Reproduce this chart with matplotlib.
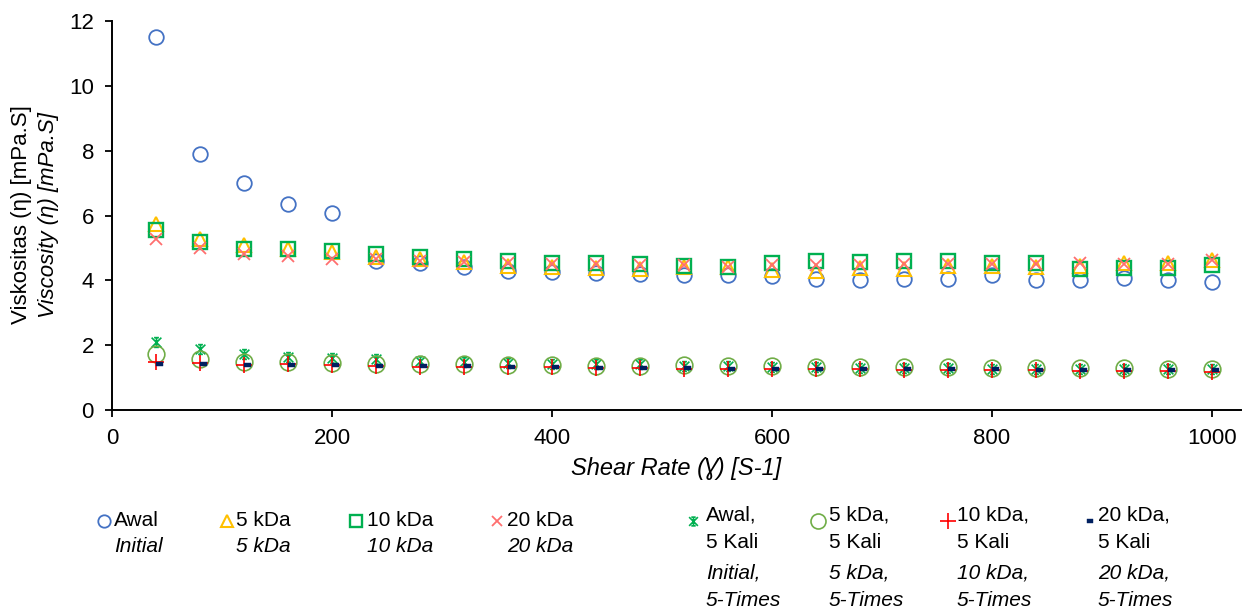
import matplotlib
matplotlib.use("Agg")
import matplotlib.pyplot as plt
from matplotlib.lines import Line2D
from matplotlib.path import Path

plt.rcParams["font.family"] = ["Liberation Sans", "DejaVu Sans"]

# shear rate values
shear = [40, 80, 120, 160, 200, 240, 280, 320, 360, 400, 440, 480, 520,
         560, 600, 640, 680, 720, 760, 800, 840, 880, 920, 960, 1000]

awal = [11.5, 7.9, 7.0, 6.37, 6.07, 4.6, 4.52, 4.4, 4.3, 4.25, 4.23, 4.18, 4.15,
        4.15, 4.12, 4.04, 4.02, 4.05, 4.05, 4.16, 4.02, 4.02, 4.07, 4.0, 3.95]
kda5 = [5.74, 5.28, 5.08, 4.97, 4.88, 4.73, 4.65, 4.57, 4.45, 4.41, 4.38, 4.35, 4.4,
        4.4, 4.33, 4.28, 4.38, 4.35, 4.43, 4.43, 4.4, 4.45, 4.53, 4.53, 4.64]
kda10 = [5.56, 5.19, 4.97, 4.97, 4.9, 4.8, 4.72, 4.65, 4.6, 4.55, 4.53, 4.5, 4.45,
         4.4, 4.55, 4.6, 4.57, 4.6, 4.6, 4.55, 4.53, 4.36, 4.39, 4.39, 4.46]
kda20 = [5.26, 5.0, 4.82, 4.75, 4.66, 4.65, 4.6, 4.58, 4.53, 4.5, 4.5, 4.47, 4.47,
         4.42, 4.47, 4.47, 4.47, 4.5, 4.5, 4.5, 4.5, 4.53, 4.5, 4.5, 4.63]
awal_5x = [2.11, 1.88, 1.73, 1.65, 1.6, 1.57, 1.52, 1.49, 1.46, 1.43, 1.42, 1.41, 1.36,
           1.35, 1.34, 1.33, 1.31, 1.3, 1.3, 1.28, 1.28, 1.27, 1.27, 1.26, 1.25]
kda5_5x = [1.72, 1.57, 1.49, 1.49, 1.44, 1.43, 1.42, 1.41, 1.39, 1.39, 1.37, 1.37, 1.39,
           1.37, 1.37, 1.34, 1.33, 1.32, 1.32, 1.29, 1.29, 1.29, 1.29, 1.28, 1.28]
kda10_5x = [1.49, 1.44, 1.39, 1.41, 1.38, 1.36, 1.34, 1.34, 1.32, 1.32, 1.3, 1.3, 1.26,
            1.27, 1.27, 1.25, 1.25, 1.24, 1.23, 1.22, 1.22, 1.21, 1.2, 1.2, 1.18]
kda20_5x = [1.43, 1.42, 1.39, 1.4, 1.38, 1.36, 1.36, 1.35, 1.33, 1.32, 1.31, 1.3, 1.29,
            1.28, 1.28, 1.27, 1.26, 1.26, 1.25, 1.25, 1.24, 1.24, 1.23, 1.23, 1.22]

yticks = [0, 2, 4, 6, 8, 10, 12]
xticks = [0, 200, 400, 600, 800, 1000]

# excel-like star: X + vertical bar + caps
M, L = Path.MOVETO, Path.LINETO
star = Path([(-1, -1), (1, 1), (-1, 1), (1, -1), (0, -1), (0, 1),
             (-0.5, 1), (0.5, 1), (-0.5, -1), (0.5, -1)],
            [M, L, M, L, M, L, M, L, M, L])
# excel dash sits to the right of the point
dash = Path([(0, -0.27), (1, -0.27), (1, 0.27), (0, 0.27), (0, -0.27)],
            [M, L, L, L, Path.CLOSEPOLY])

series = [
    (["Awal"], ["Initial"], awal,
     dict(marker="o", ms=10.5, mfc="none", mec="#4472C4", mew=1.3)),
    (["5 kDa"], ["5 kDa"], kda5,
     dict(marker="^", ms=10.5, mfc="none", mec="#FFC000", mew=1.5)),
    (["10 kDa"], ["10 kDa"], kda10,
     dict(marker="s", ms=10, mfc="none", mec="#00B050", mew=1.7)),
    (["20 kDa"], ["20 kDa"], kda20,
     dict(marker="x", ms=9, mec="#FF6F6F", mew=1.3)),
    (["Awal,", "5 Kali"], ["Initial,", "5-Times"], awal_5x,
     dict(marker=star, ms=7, mfc="none", mec="#00B050", mew=1.2)),
    (["5 kDa,", "5 Kali"], ["5 kDa,", "5-Times"], kda5_5x,
     dict(marker="o", ms=12, mfc="none", mec="#70AD47", mew=1.2)),
    (["10 kDa,", "5 Kali"], ["10 kDa,", "5-Times"], kda10_5x,
     dict(marker="+", ms=11.5, mec="#FF0000", mew=1.2)),
    (["20 kDa,", "5 Kali"], ["20 kDa,", "5-Times"], kda20_5x,
     dict(marker=dash, ms=10.5, mfc="#002060", mec="#002060", mew=0.3)),
]

W, H = 1250, 614
FS = 15
fig = plt.figure(figsize=(W / 100, H / 100), dpi=100)
ax = fig.add_axes([112 / W, (H - 410) / H, (1241 - 112) / W, (410 - 21) / H])

for name, en, vals, st in series:
    ax.plot(shear, vals, ls="none", **st)

ax.set_xlim(0, 1026.4)
ax.set_ylim(0, 12)
ax.set_xticks(xticks)
ax.set_yticks(yticks)
ax.tick_params(labelsize=16, length=5, width=1.3, pad=8, colors="black")
for s in ("top", "right"):
    ax.spines[s].set_visible(False)
for s in ("left", "bottom"):
    ax.spines[s].set_linewidth(1.4)

ax.set_xlabel("Shear Rate (Ɣ) [S-1]", fontsize=17, style="italic", labelpad=6)
fig.text(22 / W, 1 - 215 / H, "Viskositas (η) [mPa.S]", rotation=90,
         fontsize=16, ha="center", va="center")
fig.text(49 / W, 1 - 215 / H, "Viscosity (η) [mPa.S]", rotation=90,
         fontsize=16, style="italic", ha="center", va="center")


def px(x, y):
    return x / W, 1 - y / H


# legend drawn by hand, one row under the axis
mark_x = [104, 227, 356, 497, 693, 818, 948, 1087]
text_x = [114, 236, 367, 507, 706, 829, 957, 1098]
leg_scale = [0.85, 0.85, 0.85, 0.85, 0.9, 0.9, 0.95, 0.8]
for i, (name, en, vals, st) in enumerate(series):
    st = dict(st)
    st["ms"] = st["ms"] * leg_scale[i]
    fx, fy = px(mark_x[i], 521)
    fig.add_artist(Line2D([fx], [fy], transform=fig.transFigure, ls="none", **st))
    if i < 4:
        ys = [521, 547]
    else:
        ys = [515, 543, 573, 601]
    lines = [(t, "normal") for t in name] + [(t, "italic") for t in en]
    for (t, sty), y in zip(lines, ys):
        fig.text(*px(text_x[i], y), t, fontsize=FS, style=sty, va="center")

fig.savefig("out.png", dpi=100)
